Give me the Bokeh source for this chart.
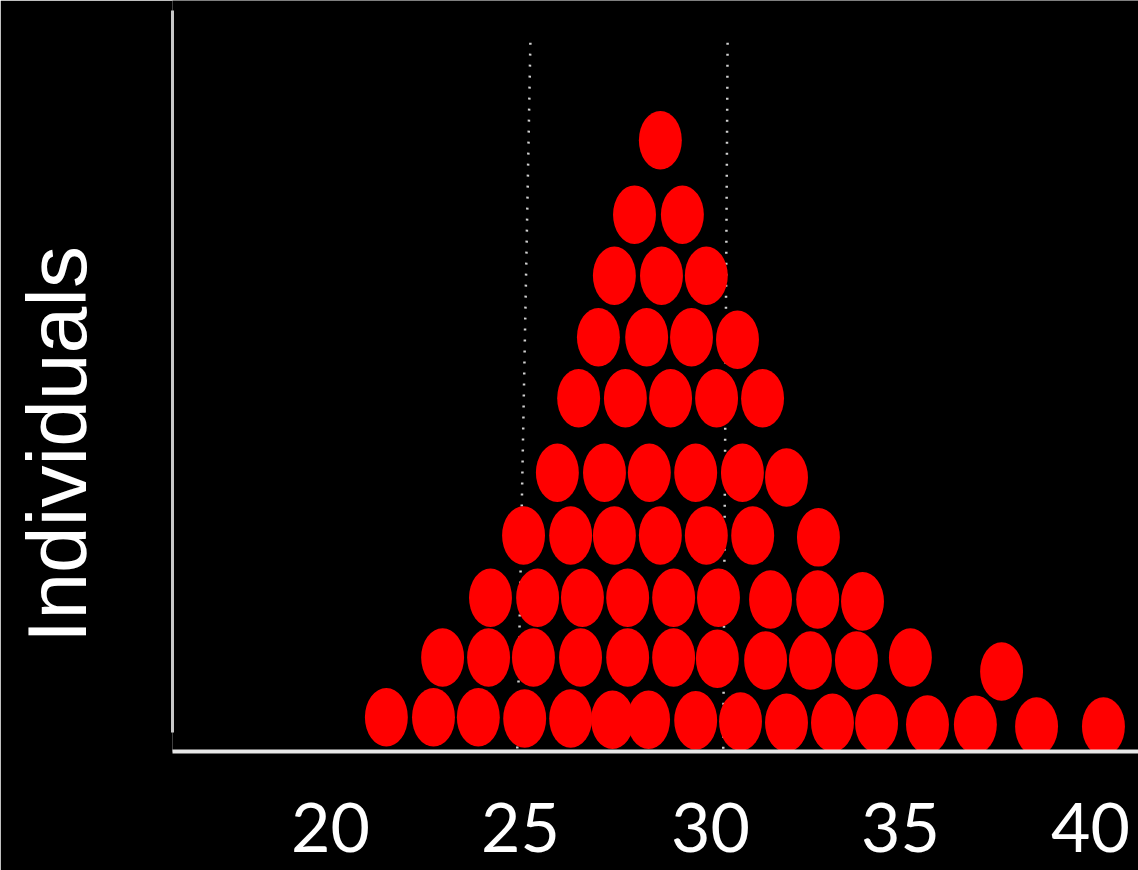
from bokeh.plotting import figure
from bokeh.models import FixedTicker, Range1d, Label
from bokeh.embed import file_html
from bokeh.resources import INLINE

# ---- values ----
# x: measured value of each individual; y: stack level of its dot
level1_x = [21.47, 22.71, 23.89, 25.11, 26.32, 27.42, 28.37, 29.61, 30.79, 32.00,
            33.21, 34.37, 35.71, 36.97, 38.58, 40.34]
level1_y = [1.02, 1.02, 1.02, 1.00, 1.00, 0.98, 0.98, 0.97, 0.95, 0.93,
            0.93, 0.92, 0.90, 0.90, 0.87, 0.87]
level2_x = [22.95, 24.16, 25.34, 26.58, 27.82, 29.03, 30.18, 31.45, 32.63, 33.84, 35.26, 37.66]
level2_y = [2.00, 2.00, 2.00, 2.00, 2.00, 2.00, 1.98, 1.95, 1.95, 1.95, 2.00, 1.77]
level3_x = [24.21, 25.45, 26.63, 27.82, 29.03, 30.21, 31.58, 32.82, 34.00]
level3_y = [2.98, 2.98, 2.98, 2.98, 2.98, 2.98, 2.95, 2.95, 2.92]
level4_x = [25.08, 26.32, 27.47, 28.68, 29.89, 31.11, 32.84]
level4_y = [4.00, 4.00, 4.00, 4.00, 4.00, 4.00, 3.97]
level5_x = [25.97, 27.21, 28.39, 29.61, 30.84, 32.00]
level5_y = [5.03, 5.03, 5.03, 5.03, 5.03, 4.95]
level6_x = [26.53, 27.76, 28.95, 30.16, 31.37]
level6_y = [6.25, 6.25, 6.25, 6.25, 6.25]
level7_x = [27.05, 28.32, 29.50, 30.71]
level7_y = [7.25, 7.25, 7.25, 7.21]
level8_x = [27.47, 28.71, 29.89]
level8_y = [8.26, 8.26, 8.26]
level9_x = [28.00, 29.26]
level9_y = [9.26, 9.26]
level10_x = [28.68]
level10_y = [10.48]

tick_values = [20, 25, 30, 35, 40]
tick_labels = ["20", "25", "30", "35", "40"]

# dotted reference lines (near 25 and 30), slightly slanted in the picture
ref_top_x = [25.26, 30.45]
ref_bottom_x = [24.87, 30.32]
ref_top_y = [12.08, 12.08]
ref_bottom_y = [-1.0, -1.0]

y_label = "Individuals"

dot_x = (level1_x + level2_x + level3_x + level4_x + level5_x +
         level6_x + level7_x + level8_x + level9_x + level10_x)
dot_y = (level1_y + level2_y + level3_y + level4_y + level5_y +
         level6_y + level7_y + level8_y + level9_y + level10_y)

p = figure(width=1138, height=870, output_backend="svg", toolbar_location=None,
           x_range=Range1d(15.842, 41.263), y_range=Range1d(0.459, 12.771),
           min_border_left=172, min_border_right=0, min_border_top=0, min_border_bottom=119)
p.title.visible = False
p.background_fill_color = "black"
p.border_fill_color = "black"
p.outline_line_color = None
p.xgrid.visible = False
p.ygrid.visible = False

p.segment(x0=ref_top_x, y0=ref_top_y, x1=ref_bottom_x, y1=ref_bottom_y,
          line_color="#d0d0d0", line_width=2.5, line_dash="2 9")

p.ellipse(x=dot_x, y=dot_y, width=1.13, height=0.96,
          fill_color="#ff0000", line_color=None)

# x axis
p.xaxis.ticker = FixedTicker(ticks=tick_values)
p.xaxis.major_label_overrides = {v: s for v, s in zip(tick_values, tick_labels)}
p.xaxis.axis_line_color = "#e8e8e8"
p.xaxis.axis_line_width = 4
p.xaxis.major_tick_line_color = None
p.xaxis.minor_tick_line_color = None
p.xaxis.major_label_text_color = "white"
p.xaxis.major_label_text_font = "Lato"
p.xaxis.major_label_text_font_size = "68px"
p.xaxis.major_label_standoff = 45

# y axis: bare line
p.yaxis.ticker = FixedTicker(ticks=[])
p.yaxis.bounds = (0.77, 12.607)
p.yaxis.axis_line_color = "#c8c8c8"
p.yaxis.axis_line_width = 3
p.yaxis.major_tick_line_color = None
p.yaxis.minor_tick_line_color = None
p.yaxis.major_label_text_font_size = "0px"

lab = Label(x=-22, y=307, x_units="screen", y_units="screen", text=y_label,
            angle=90, angle_units="deg", text_align="center", text_baseline="alphabetic",
            text_color="white", text_font="Liberation Sans", text_font_size="84px")
p.add_layout(lab, "left")

open("out.html", "w").write(file_html(p, INLINE))
